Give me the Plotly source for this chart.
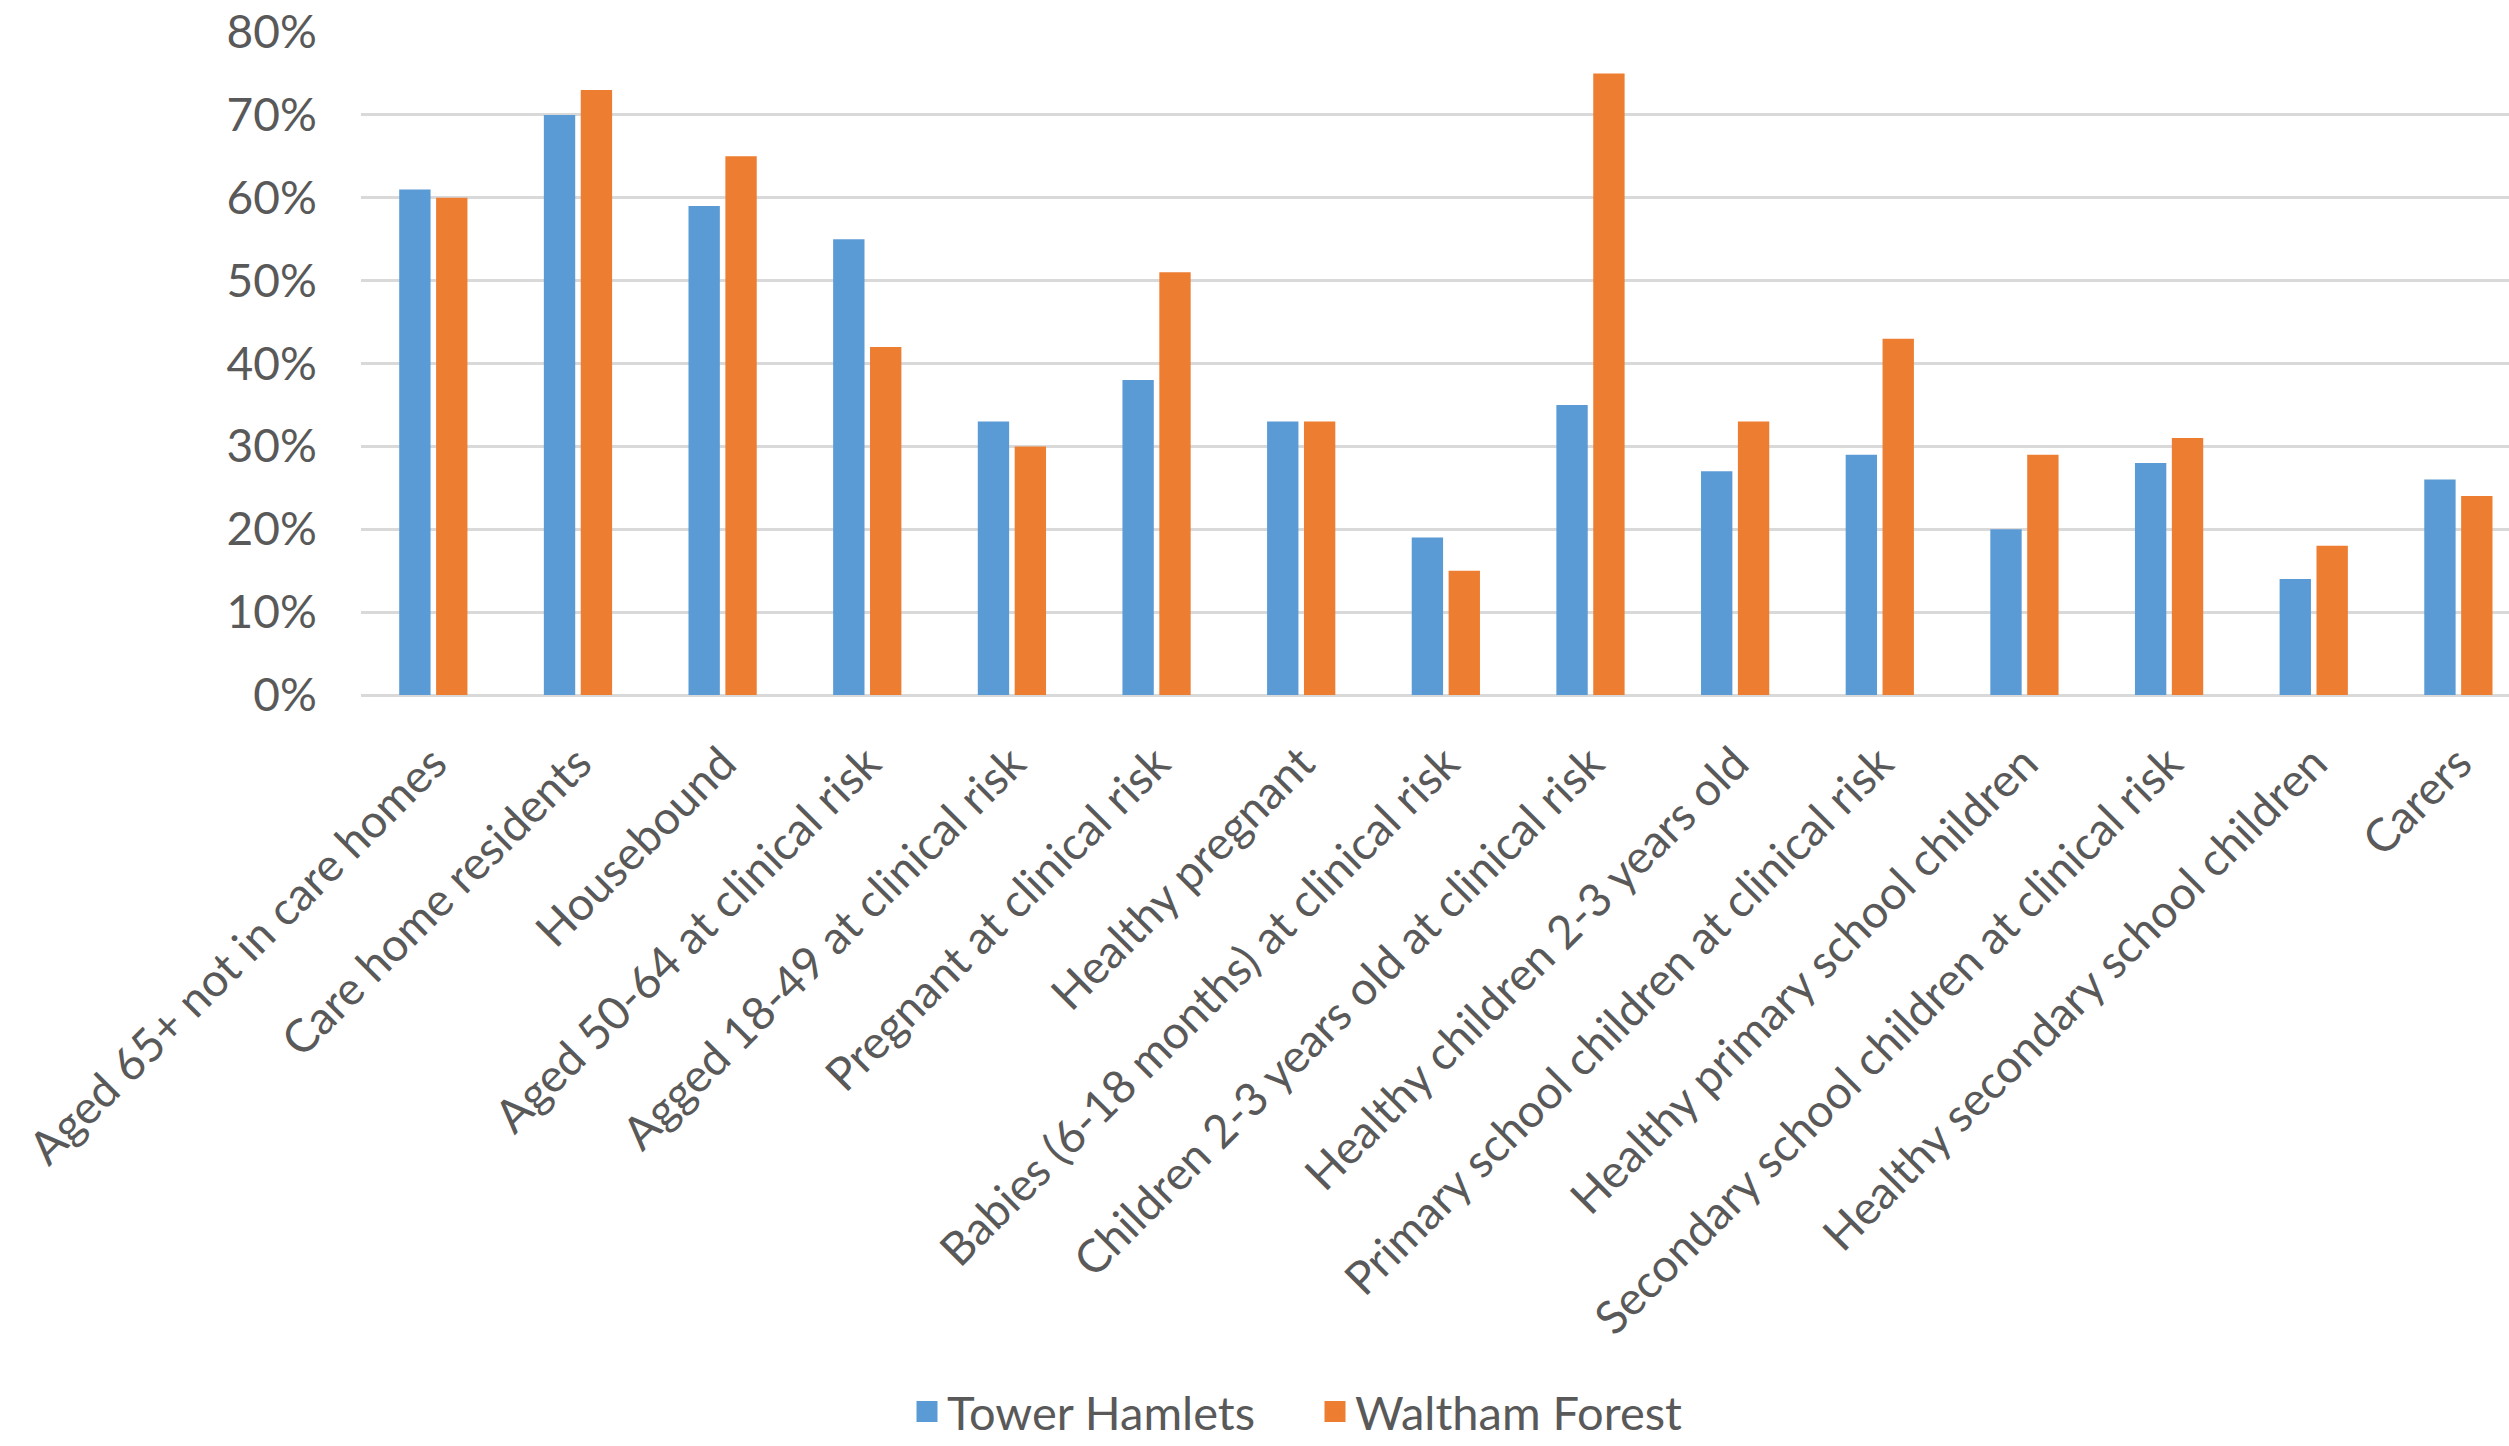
import plotly.graph_objects as go

categories = [
    "Aged 65+ not in care homes",
    "Care home residents",
    "Housebound",
    "Aged 50-64 at clinical risk",
    "Agged 18-49 at clinical risk",
    "Pregnant at clinical risk",
    "Healthy pregnant",
    "Babies (6-18 months) at clinical risk",
    "Children 2-3 years old at clinical risk",
    "Healthy children 2-3 years old",
    "Primary school children at clinical risk",
    "Healthy primary school children",
    "Secondary school children at clinical risk",
    "Healthy secondary school children",
    "Carers",
]
tower_hamlets = [0.61, 0.70, 0.59, 0.55, 0.33, 0.38, 0.33, 0.19, 0.35, 0.27, 0.29, 0.20, 0.28, 0.14, 0.26]
waltham_forest = [0.60, 0.73, 0.65, 0.42, 0.30, 0.51, 0.33, 0.15, 0.75, 0.33, 0.43, 0.29, 0.31, 0.18, 0.24]
series_names = ["Tower Hamlets", "Waltham Forest"]
series_colors = ["#5B9BD5", "#ED7D31"]
y_ticks = [0, 0.1, 0.2, 0.3, 0.4, 0.5, 0.6, 0.7, 0.8]

FONT = "Lato"
TXT = "#595959"

fig = go.Figure()
for name, vals, col in zip(series_names, [tower_hamlets, waltham_forest], series_colors):
    fig.add_trace(go.Bar(x=categories, y=vals, name=name, showlegend=False,
                         legendgroup=name, marker=dict(color=col, line=dict(width=0))))
# legend entries with larger square swatches
for name, col in zip(series_names, series_colors):
    fig.add_trace(go.Scatter(x=[None], y=[None], mode="markers", name=name,
                             legendgroup=name, showlegend=True,
                             marker=dict(symbol="square", size=16, color=col,
                                         line=dict(width=5, color=col))))

fig.update_layout(
    width=2509, height=1446,
    margin=dict(l=361, r=0, t=32, b=751),
    paper_bgcolor="white", plot_bgcolor="white",
    barmode="group", bargap=0.49, bargroupgap=0.15,
    font=dict(family=FONT, size=46, color=TXT),
    showlegend=True,
    legend=dict(orientation="h", xref="container", yref="container",
                x=907 / 2509, xanchor="left", y=1 - 1412 / 1446, yanchor="middle",
                font=dict(family=FONT, size=47, color=TXT), itemwidth=30,
                entrywidth=363, entrywidthmode="pixels", tracegroupgap=0),
)
fig.update_xaxes(
    type="category", range=[-0.5, 14.35], tickangle=-45,
    showgrid=False, showline=False, zeroline=False,
    ticks="outside", ticklen=22, tickcolor="rgba(0,0,0,0)",
    tickfont=dict(family=FONT, size=46, color=TXT),
)
fig.update_yaxes(
    range=[0, 0.8], tickvals=y_ticks, tickformat=".0%",
    showgrid=True, gridcolor="#D9D9D9", gridwidth=3,
    zeroline=True, zerolinecolor="#D9D9D9", zerolinewidth=3,
    showline=False,
    ticks="outside", ticklen=34, tickcolor="rgba(0,0,0,0)",
    tickfont=dict(family=FONT, size=46, color=TXT),
)

fig.write_html("out.html")
